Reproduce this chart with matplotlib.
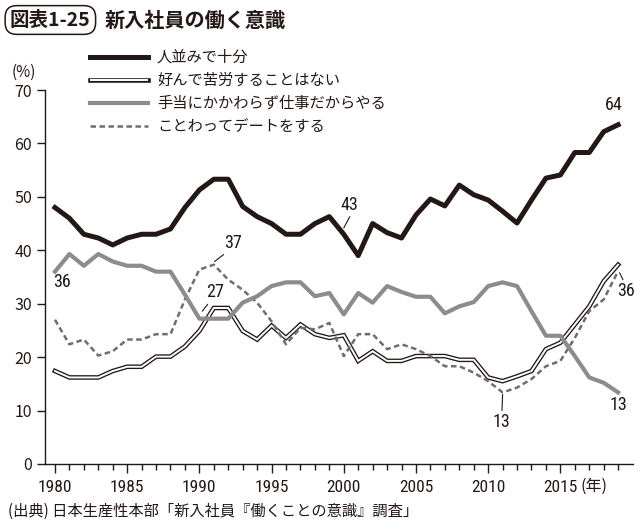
import matplotlib
matplotlib.use("Agg")
import matplotlib.pyplot as plt
from matplotlib import font_manager
from matplotlib.lines import Line2D

# data (%)
years = list(range(1980, 2020))
ninami = [48, 46, 43, 42.3, 41, 42.3, 43, 43, 44, 48,
          51.3, 53.3, 53.3, 48.2, 46.3, 45, 43, 43, 45, 46.3,
          43, 39, 45, 43.3, 42.3, 46.6, 49.6, 48.3, 52.2, 50.4,
          49.4, 47.3, 45.1, 49.4, 53.5, 54.1, 58.3, 58.3, 62.2, 63.5]
kurou = [17.4, 16.2, 16.2, 16.2, 17.4, 18.2, 18.2, 20.1, 20.1, 22,
         24.9, 29.2, 29.2, 24.9, 23.3, 25.9, 23.6, 26.1, 24.3, 23.6,
         24.1, 19.3, 21.1, 19.3, 19.3, 20.2, 20.2, 20.2, 19.5, 19.5,
         16.2, 15.5, 16.4, 17.4, 21.5, 22.7, 26.1, 29.5, 34.2, 37.3]
teate = [36, 39.3, 37.1, 39.3, 37.9, 37.1, 37.1, 36, 36, 31.7,
         27.2, 27.2, 27.2, 30.2, 31.4, 33.3, 34, 34, 31.4, 32,
         28, 32, 30.2, 33.3, 32.2, 31.3, 31.3, 28.2, 29.5, 30.3,
         33.3, 34, 33.3, 28.6, 24, 24, 20.2, 16.2, 15.2, 13.4]
date = [27, 22.4, 23.3, 20.3, 21.1, 23.3, 23.3, 24.3, 24.3, 30.8,
        36.4, 37.3, 34.5, 32.6, 30.2, 26.7, 22.4, 25.5, 25.2, 26.4,
        20.2, 24.3, 24.3, 21.5, 22.4, 21.5, 20.2, 18.3, 18.3, 17.1,
        15.5, 13.4, 14.3, 15.9, 18.3, 19.3, 23.6, 28.6, 30.8, 36.1]
labels = ["人並みで十分", "好んで苦労することはない",
          "手当にかかわらず仕事だからやる", "ことわってデートをする"]
yticks = [0, 10, 20, 30, 40, 50, 60, 70]

JP = "Noto Sans CJK JP"


def pick(names):
    for n in names:
        try:
            font_manager.findfont(n, fallback_to_default=False)
            return n
        except Exception:
            pass
    return JP


NARROW = pick(["Liberation Sans Narrow", "Roboto Condensed", "DejaVu Sans Condensed"])
plt.rcParams["font.family"] = [JP, "DejaVu Sans"]

BLACK = "#231815"
GRAY = "#8c8c8c"
DGRAY = "#6e6e6e"

fig = plt.figure(figsize=(6.4, 5.3), dpi=100)
ax = fig.add_axes([45 / 640, 1 - 464 / 530, 588 / 640, 374 / 530])

# white double line
ax.plot(years, kurou, color=BLACK, lw=3.3, solid_joinstyle="miter", zorder=2)
ax.plot(years, kurou, color="white", lw=1.4, solid_joinstyle="miter", zorder=2.1)
ax.plot(years, date, color=DGRAY, lw=1.8, linestyle=(0, (2.2, 1.4)), zorder=3)
ax.plot(years, teate, color=GRAY, lw=3.0, zorder=4)
ax.plot(years, ninami, color=BLACK, lw=3.6, zorder=5)

ax.set_xlim(1979.31, 2020.03)
ax.set_ylim(0, 70)
ax.spines["top"].set_visible(False)
ax.spines["right"].set_visible(False)
for s in ["left", "bottom"]:
    ax.spines[s].set_linewidth(1.0)
    ax.spines[s].set_color(BLACK)

ax.set_yticks(yticks)
ax.set_yticklabels([str(v) for v in yticks], fontsize=11.5, color=BLACK)
ax.tick_params(axis="y", length=5.8, width=1.0, pad=3.5, color=BLACK)

ax.set_xticks(list(range(1980, 2020, 5)))
ax.set_xticks(years, minor=True)
ax.set_xticklabels([str(y) for y in range(1980, 2020, 5)], fontsize=12.5,
                   family=[NARROW, JP], color=BLACK)
ax.tick_params(axis="x", which="major", direction="out", length=6.5, width=1.0,
               pad=5, color=BLACK)
ax.tick_params(axis="x", which="minor", direction="out", length=4.3, width=1.0,
               color=BLACK)

fig.text(580 / 640, 1 - 486 / 530, "(年)", fontsize=11.5, ha="left",
         va="center", color=BLACK)
fig.text(12 / 640, 1 - 72 / 530, "(%)", fontsize=11, ha="left", va="center",
         color=BLACK)

# annotations
afont = dict(fontsize=13, family=[NARROW, JP], color=BLACK, ha="center", va="center")
lp = dict(arrowstyle="-", lw=0.8, color=BLACK, shrinkA=0, shrinkB=0)
ax.text(2018.7, 67.2, "64", **afont)
ax.annotate("43", xy=(2000.0, 44.2), xytext=(2000.4, 48.5),
            arrowprops=dict(lp, relpos=(0.6, 0)), **afont)
ax.annotate("37", xy=(1991.05, 37.9), xytext=(1992.3, 41.4),
            arrowprops=dict(lp, relpos=(0.2, 0)), **afont)
ax.annotate("27", xy=(1990.2, 28.6), xytext=(1991.1, 32.1),
            arrowprops=dict(lp, relpos=(0.2, 0)), **afont)
ax.text(1980.5, 34.0, "36", **afont)
ax.annotate("36", xy=(2019.1, 35.8), xytext=(2019.55, 32.3),
            arrowprops=dict(lp, relpos=(0.4, 1)), **afont)
ax.annotate("13", xy=(2011.0, 13.0), xytext=(2010.95, 7.8),
            arrowprops=dict(lp, relpos=(0.5, 1)), **afont)
ax.text(2019.05, 11.0, "13", **afont)

# legend
rows = [57, 80, 103, 126]
x0, x1 = 90 / 640, 148 / 640
for i, r in enumerate(rows):
    yy = 1 - r / 530
    if i == 0:
        fig.add_artist(Line2D([x0, x1], [yy, yy], color=BLACK, lw=3.6))
    elif i == 1:
        fig.add_artist(Line2D([x0, x1], [yy, yy], color=BLACK, lw=3.3))
        fig.add_artist(Line2D([x0 + 0.002, x1 - 0.002], [yy, yy], color="white", lw=1.4))
    elif i == 2:
        fig.add_artist(Line2D([x0, x1], [yy, yy], color=GRAY, lw=3.0))
    else:
        fig.add_artist(Line2D([x0, x1], [yy, yy], color=DGRAY, lw=1.8,
                              linestyle=(0, (2.2, 1.4))))
    fig.text(157 / 640, yy, labels[i], fontsize=11, ha="left", va="center",
             color=BLACK)

# title
fig.text(10 / 640, 1 - 20 / 530, "図表1-25", fontsize=14, fontweight="bold",
         ha="left", va="center", color=BLACK,
         bbox=dict(boxstyle="round,pad=0.25,rounding_size=0.6", fc="white",
                   ec=BLACK, lw=1.1))
fig.text(105 / 640, 1 - 20 / 530, "新入社員の働く意識", fontsize=14.5,
         fontweight="bold", ha="left", va="center", color=BLACK)

fig.text(8 / 640, 1 - 511 / 530, "(出典) 日本生産性本部「新入社員『働くことの意識』調査」",
         fontsize=11, ha="left", va="center", color=BLACK)

fig.savefig("out.png", dpi=100)
